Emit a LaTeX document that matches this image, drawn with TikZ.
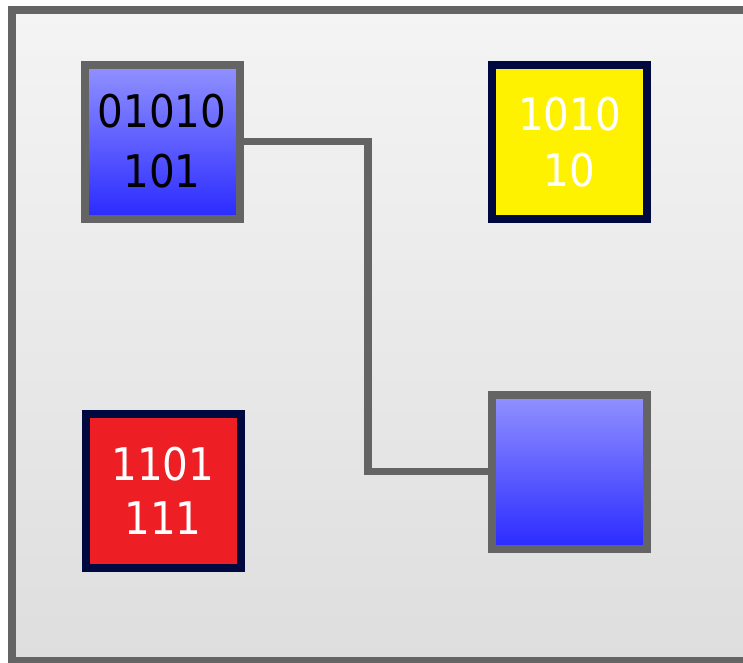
\documentclass[tikz,border=0pt]{standalone}
\usepackage{fontspec}
\newfontfamily\digfont{DejaVu Sans Condensed}
\definecolor{framegray}{HTML}{646464}
\definecolor{navy}{HTML}{000840}
\definecolor{bgtop}{HTML}{F4F4F4}
\definecolor{bgbot}{HTML}{DEDEDE}
\definecolor{bluetop}{HTML}{9292FF}
\definecolor{bluebot}{HTML}{2A2AFF}
\definecolor{boxred}{HTML}{EE1E25}
\definecolor{boxyellow}{HTML}{FFF200}
\tikzset{
  box/.style={rectangle, minimum width=155pt, minimum height=154pt, inner sep=0pt,
    line width=8pt, align=center, font=\digfont\fontsize{45}{55}\selectfont},
  bluebox/.style={box, draw=framegray, top color=bluetop, bottom color=bluebot, text=black},
  yellowbox/.style={box, draw=navy, fill=boxyellow, text=white},
  redbox/.style={box, draw=navy, fill=boxred, text=white},
  wire/.style={draw=framegray, line width=7.5pt}
}
\begin{document}
\begin{tikzpicture}[x=1pt,y=-1pt]
\useasboundingbox (0,0) rectangle (743,662);
\begin{scope}
\clip (0,0) rectangle (743,662);
\shade[top color=bgtop, bottom color=bgbot] (12,10) rectangle (760,661);
\draw[framegray, line width=8pt] (12,10) rectangle (760,661);
\end{scope}
\node[bluebox, font=\digfont\fontsize{45}{60}\selectfont] (b1) at (162,141.5) {01010\\101};
\node[yellowbox, font=\digfont\fontsize{45}{56}\selectfont] (y1) at (569.5,142) {1010\\10};
\node[redbox, font=\digfont\fontsize{45}{54}\selectfont] (r1) at (163,490.5) {1101\\111};
\node[bluebox] (b2) at (569.5,471.5) {};
\coordinate (m) at (368,0);
\draw[wire] (b1.east) -| (m |- b2.west) -- (b2.west);
\end{tikzpicture}
\end{document}
